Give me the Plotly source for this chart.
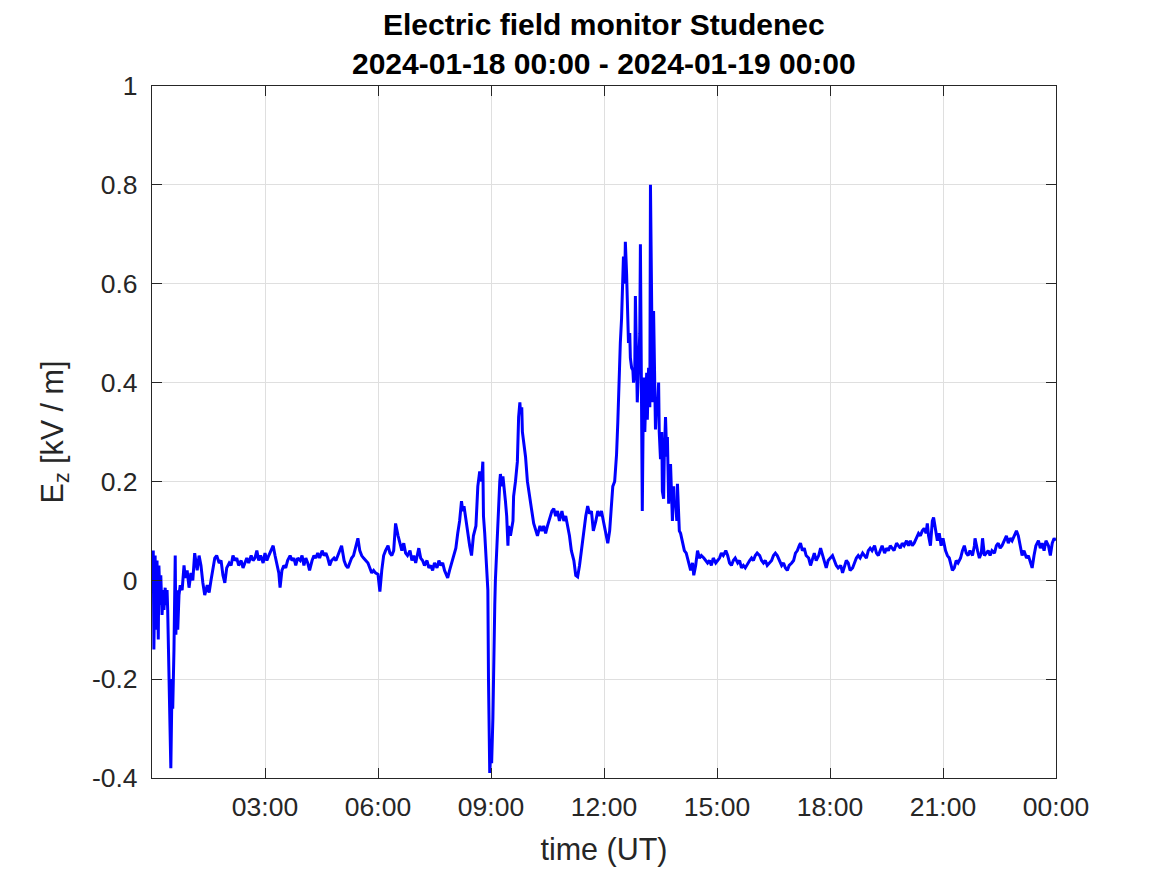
import pandas as pd
import plotly.graph_objects as go

# Time of each sample in minutes after 2024-01-18 00:00 UT
t_min = [
    0, 2, 3, 5, 6, 8, 10, 11, 13, 14, 16, 18, 19, 21, 22, 24, 25, 27, 29, 30,
    32, 33, 35, 37, 38, 40, 41, 43, 45, 48, 51, 53, 56, 59, 62, 65, 68, 72, 75, 78,
    81, 84, 88, 91, 94, 97, 100, 103, 107, 110, 113, 116, 119, 123, 126, 129, 132, 135, 138, 142,
    145, 148, 151, 154, 158, 161, 164, 167, 170, 173, 177, 180, 183, 186, 189, 193, 196, 199, 202, 204,
    207, 210, 213, 216, 220, 223, 226, 229, 232, 236, 239, 242, 245, 248, 251, 255, 258, 261, 264, 267,
    271, 274, 277, 280, 283, 286, 290, 293, 296, 299, 302, 306, 309, 312, 315, 318, 321, 325, 328, 331,
    334, 337, 341, 344, 347, 350, 353, 356, 360, 363, 366, 369, 372, 376, 379, 382, 385, 388, 392, 395,
    398, 401, 404, 407, 411, 414, 417, 420, 423, 425, 428, 431, 434, 438, 441, 444, 447, 450, 454, 457,
    460, 463, 466, 469, 471, 474, 477, 481, 484, 487, 490, 493, 495, 497, 500, 503, 506, 509, 512, 516,
    519, 522, 525, 527, 528, 530, 533, 535, 536, 538, 540, 541, 543, 544, 546, 547, 549, 551, 552, 554,
    555, 557, 559, 560, 562, 563, 565, 567, 568, 571, 575, 576, 579, 582, 584, 586, 587, 589, 590, 592,
    595, 598, 602, 605, 608, 611, 614, 618, 621, 624, 627, 630, 633, 637, 640, 643, 646, 649, 653, 656,
    659, 662, 665, 668, 672, 675, 678, 681, 684, 688, 691, 694, 697, 700, 703, 707, 710, 713, 716, 719,
    723, 726, 729, 732, 734, 737, 740, 742, 743, 745, 746, 748, 750, 751, 753, 754, 756, 758, 759, 761,
    762, 764, 766, 767, 769, 770, 772, 773, 775, 777, 778, 780, 781, 783, 785, 786, 788, 789, 791, 793,
    794, 796, 797, 799, 801, 802, 804, 805, 807, 808, 810, 812, 813, 815, 816, 818, 820, 821, 823, 824,
    826, 828, 829, 831, 832, 834, 836, 837, 839, 840, 842, 845, 848, 851, 854, 858, 861, 863, 866, 869,
    872, 875, 879, 882, 885, 888, 891, 894, 898, 901, 904, 907, 910, 914, 917, 920, 923, 926, 929, 933,
    936, 939, 942, 945, 949, 952, 955, 958, 961, 964, 968, 971, 974, 977, 980, 984, 987, 990, 993, 996,
    999, 1003, 1006, 1009, 1012, 1015, 1019, 1022, 1025, 1028, 1031, 1033, 1036, 1039, 1042, 1046, 1049, 1052, 1055, 1058,
    1062, 1065, 1068, 1071, 1074, 1077, 1081, 1084, 1087, 1090, 1093, 1097, 1100, 1103, 1106, 1109, 1112, 1116, 1119, 1122,
    1125, 1128, 1132, 1135, 1138, 1141, 1144, 1147, 1151, 1154, 1157, 1160, 1163, 1167, 1170, 1173, 1176, 1179, 1182, 1186,
    1189, 1192, 1195, 1198, 1202, 1205, 1208, 1211, 1214, 1217, 1221, 1224, 1227, 1230, 1233, 1235, 1237, 1240, 1243, 1245,
    1248, 1251, 1254, 1257, 1260, 1264, 1267, 1270, 1273, 1275, 1278, 1281, 1284, 1288, 1291, 1294, 1297, 1300, 1303, 1307,
    1310, 1311, 1315, 1318, 1321, 1323, 1326, 1329, 1332, 1335, 1338, 1342, 1345, 1348, 1351, 1354, 1358, 1361, 1364, 1367,
    1370, 1373, 1377, 1380, 1383, 1386, 1389, 1393, 1396, 1399, 1402, 1405, 1408, 1412, 1415, 1418, 1421, 1424, 1428, 1431,
    1434, 1437, 1439,
]

# Vertical electric field E_z in kV/m
ez_kv_m = [
    0.0, 0.06, -0.14, 0.05, -0.10, 0.04, -0.12, 0.03, -0.05, 0.01, -0.07, -0.02, -0.06, -0.015, -0.05, -0.02, -0.06, -0.17, -0.29, -0.38,
    -0.20, -0.26, -0.14, 0.05, -0.11, -0.02, -0.10, -0.03, -0.01, -0.02, 0.03, 0.005, 0.02, -0.015, 0.015, 0.0, 0.055, 0.02, 0.05, 0.03,
    -0.005, -0.03, -0.01, -0.025, 0.0, 0.025, 0.045, 0.05, 0.035, 0.04, 0.01, -0.005, 0.025, 0.035, 0.03, 0.05, 0.04, 0.045, 0.03, 0.04,
    0.025, 0.035, 0.045, 0.035, 0.05, 0.04, 0.045, 0.06, 0.04, 0.05, 0.035, 0.055, 0.04, 0.05, 0.06, 0.07, 0.05, 0.03, 0.015, -0.015,
    0.02, 0.03, 0.025, 0.04, 0.05, 0.04, 0.045, 0.03, 0.045, 0.04, 0.05, 0.03, 0.045, 0.035, 0.02, 0.04, 0.05, 0.045, 0.055, 0.045,
    0.06, 0.05, 0.055, 0.045, 0.03, 0.04, 0.045, 0.04, 0.05, 0.06, 0.07, 0.04, 0.03, 0.025, 0.035, 0.045, 0.05, 0.07, 0.085, 0.06,
    0.05, 0.045, 0.04, 0.035, 0.025, 0.015, 0.02, 0.015, 0.012, -0.023, 0.02, 0.05, 0.06, 0.07, 0.055, 0.05, 0.06, 0.115, 0.09, 0.075,
    0.06, 0.075, 0.055, 0.05, 0.06, 0.04, 0.05, 0.035, 0.055, 0.065, 0.045, 0.04, 0.03, 0.04, 0.025, 0.03, 0.02, 0.035, 0.025, 0.04,
    0.03, 0.035, 0.02, 0.01, 0.005, 0.02, 0.035, 0.05, 0.065, 0.095, 0.12, 0.16, 0.14, 0.15, 0.12, 0.09, 0.07, 0.05, 0.09, 0.11,
    0.19, 0.22, 0.20, 0.24, 0.13, 0.095, 0.01, -0.02, -0.20, -0.39, -0.33, -0.37, -0.28, -0.17, -0.05, 0.0, 0.06, 0.115, 0.17, 0.20,
    0.215, 0.19, 0.21, 0.20, 0.18, 0.16, 0.13, 0.07, 0.11, 0.09, 0.12, 0.17, 0.20, 0.24, 0.33, 0.36, 0.34, 0.35, 0.30, 0.28,
    0.25, 0.20, 0.17, 0.14, 0.115, 0.10, 0.09, 0.11, 0.10, 0.11, 0.095, 0.11, 0.125, 0.14, 0.145, 0.13, 0.14, 0.12, 0.14, 0.12,
    0.13, 0.11, 0.09, 0.06, 0.04, 0.01, 0.007, 0.03, 0.06, 0.11, 0.13, 0.15, 0.135, 0.14, 0.10, 0.12, 0.14, 0.13, 0.14, 0.12,
    0.09, 0.075, 0.10, 0.155, 0.19, 0.20, 0.255, 0.32, 0.365, 0.42, 0.48, 0.53, 0.595, 0.655, 0.60, 0.685, 0.62, 0.53, 0.48, 0.50,
    0.45, 0.43, 0.425, 0.40, 0.42, 0.575, 0.45, 0.36, 0.43, 0.50, 0.68, 0.40, 0.14, 0.41, 0.30, 0.345, 0.42, 0.325, 0.43, 0.35,
    0.80, 0.55, 0.36, 0.545, 0.40, 0.305, 0.37, 0.34, 0.40, 0.30, 0.245, 0.30, 0.18, 0.165, 0.25, 0.33, 0.25, 0.29, 0.155, 0.20,
    0.235, 0.17, 0.12, 0.19, 0.15, 0.16, 0.12, 0.195, 0.12, 0.10, 0.095, 0.075, 0.06, 0.055, 0.04, 0.02, 0.035, 0.01, 0.03, 0.06,
    0.045, 0.05, 0.045, 0.04, 0.035, 0.04, 0.03, 0.045, 0.035, 0.04, 0.045, 0.055, 0.05, 0.06, 0.05, 0.035, 0.03, 0.04, 0.045, 0.035,
    0.04, 0.025, 0.03, 0.025, 0.035, 0.04, 0.045, 0.04, 0.05, 0.055, 0.05, 0.04, 0.035, 0.04, 0.03, 0.035, 0.04, 0.05, 0.055, 0.05,
    0.04, 0.03, 0.035, 0.025, 0.02, 0.03, 0.035, 0.04, 0.055, 0.06, 0.07, 0.075, 0.06, 0.065, 0.05, 0.045, 0.03, 0.045, 0.055, 0.04,
    0.05, 0.065, 0.05, 0.035, 0.025, 0.04, 0.045, 0.05, 0.04, 0.03, 0.025, 0.03, 0.015, 0.03, 0.04, 0.035, 0.02, 0.025, 0.035, 0.045,
    0.05, 0.045, 0.055, 0.05, 0.045, 0.06, 0.065, 0.06, 0.07, 0.055, 0.05, 0.06, 0.07, 0.055, 0.065, 0.06, 0.07, 0.065, 0.06, 0.075,
    0.07, 0.065, 0.075, 0.07, 0.08, 0.07, 0.08, 0.07, 0.075, 0.085, 0.095, 0.09, 0.10, 0.105, 0.095, 0.115, 0.09, 0.07, 0.12, 0.127,
    0.10, 0.08, 0.095, 0.07, 0.085, 0.06, 0.05, 0.045, 0.03, 0.02, 0.025, 0.04, 0.035, 0.045, 0.06, 0.07, 0.055, 0.05, 0.06, 0.05,
    0.07, 0.085, 0.06, 0.045, 0.055, 0.085, 0.05, 0.055, 0.06, 0.05, 0.06, 0.055, 0.07, 0.075, 0.065, 0.07, 0.08, 0.09, 0.075, 0.085,
    0.08, 0.09, 0.10, 0.09, 0.065, 0.05, 0.06, 0.045, 0.05, 0.035, 0.025, 0.05, 0.07, 0.08, 0.065, 0.075, 0.06, 0.08, 0.07, 0.05,
    0.075, 0.085, 0.08,
]

x_tick_labels = ["03:00", "06:00", "09:00", "12:00", "15:00", "18:00", "21:00", "00:00"]
x_tick_hours = [3, 6, 9, 12, 15, 18, 21, 24]
y_tick_vals = [-0.4, -0.2, 0, 0.2, 0.4, 0.6, 0.8, 1]
y_tick_labels = ["-0.4", "-0.2", "0", "0.2", "0.4", "0.6", "0.8", "1"]

title_text = "<b>Electric field monitor Studenec<br>2024-01-18 00:00 - 2024-01-19 00:00</b>"

start = pd.Timestamp("2024-01-18 00:00")
times = start + pd.to_timedelta(t_min, unit="min")
x_tick_vals = [start + pd.Timedelta(hours=h) for h in x_tick_hours]

FONT = "Liberation Sans, Arial, Helvetica, sans-serif"

fig = go.Figure()
fig.add_trace(go.Scatter(
    x=times, y=ez_kv_m, mode="lines",
    line=dict(color="#0000ff", width=3),
    showlegend=False, hoverinfo="skip",
))

axis_common = dict(
    showline=True, linecolor="#262626", linewidth=1.2, mirror="allticks",
    ticks="inside", ticklen=10, tickcolor="#262626", tickwidth=1.2,
    showgrid=True, gridcolor="#dfdfdf", gridwidth=1, zeroline=False,
    tickfont=dict(family=FONT, size=26.5, color="#262626"),
    automargin=False,
)

fig.update_xaxes(
    type="date",
    range=[start, start + pd.Timedelta(hours=24)],
    tickmode="array", tickvals=x_tick_vals, ticktext=x_tick_labels,
    title=dict(text="time (UT)", standoff=17,
               font=dict(family=FONT, size=30.5, color="#262626")),
    ticklabelstandoff=5,
    **axis_common,
)
fig.update_yaxes(
    range=[-0.4, 1.0],
    tickmode="array", tickvals=y_tick_vals, ticktext=y_tick_labels,
    title=dict(text="E<sub>z</sub> [kV / m]", standoff=19,
               font=dict(family=FONT, size=30.5, color="#262626")),
    ticklabelstandoff=8,
    **axis_common,
)

fig.update_layout(
    width=1151, height=859,
    paper_bgcolor="white", plot_bgcolor="white",
    margin=dict(l=144, r=103, t=78, b=89),
    annotations=[dict(
        text=title_text, xref="paper", yref="paper",
        x=0.5, y=(770 - 36) / 692, xanchor="center", yanchor="middle",
        showarrow=False, align="center",
        font=dict(family=FONT, size=30, color="black"),
    )],
)

fig.write_html("out.html")
